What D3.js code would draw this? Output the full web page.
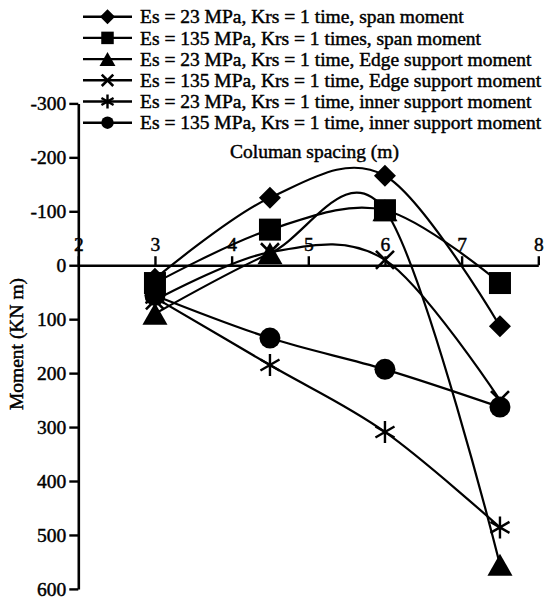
<!DOCTYPE html>
<html>
<head>
<meta charset="utf-8">
<script src="https://cdn.jsdelivr.net/npm/d3@7"></script>
<style>
  body { margin: 0; background: #fff; }
  svg { display: block; }
  text { font-family: "Liberation Serif", "Times New Roman", serif; fill: #000; stroke: #000; stroke-width: 0.45px; }
</style>
</head>
<body>
<svg id="chart" width="544" height="600"></svg>
<script>
// Column spacing (m) at which the moments were computed
const spacing = [3, 4.5, 6, 7.5];

// Moments (KN m); negative values plot upward
const span23 = [25, -125, -166, 113];
const span135 = [33, -66, -102, 33];
const edge23 = [90, -22, -102, 555];
const edge135 = [65, -24, -10, 250];
const inner23 = [60, 185, 309, 486];
const inner135 = [56, 135, 193, 263];

const seriesNames = [
  "Es = 23 MPa, Krs = 1 time, span moment",
  "Es = 135 MPa, Krs = 1 times, span moment",
  "Es = 23 MPa, Krs = 1 time, Edge support moment",
  "Es = 135 MPa, Krs = 1 time, Edge support moment",
  "Es = 23 MPa, Krs = 1 time, inner support moment",
  "Es = 135 MPa, Krs = 1 time, inner support moment"
];
const markerKinds = ["diamond", "square", "triangle", "cross", "asterisk", "circle"];

const xTickValues = [2, 3, 4, 5, 6, 7, 8];
const xTickLabels = ["2", "3", "4", "5", "6", "7", "8"];
const yTickValues = [-300, -200, -100, 0, 100, 200, 300, 400, 500, 600];
const yTickLabels = ["-300", "-200", "-100", "0", "100", "200", "300", "400", "500", "600"];
const xTitle = "Columan spacing (m)";
const yTitle = "Moment (KN m)";

const seriesValues = [span23, span135, edge23, edge135, inner23, inner135];
const series = seriesNames.map((name, i) => ({
  name,
  kind: markerKinds[i],
  points: spacing.map((s, j) => ({ x: s, y: seriesValues[i][j] }))
}));

const svg = d3.select("#chart");
const FONT = 19.5;

const x = d3.scaleLinear().domain([2, 8]).range([78.3, 538.3]);
const y = d3.scaleLinear().domain([-300, 600]).range([103.4, 588.9]);

// Y axis on the left at x = 2
const yAxis = svg.append("g")
  .attr("transform", `translate(${x(2)},0)`)
  .call(d3.axisLeft(y).tickValues(yTickValues).tickSize(9).tickSizeOuter(0).tickPadding(3)
    .tickFormat((d, i) => yTickLabels[i]));
yAxis.select(".domain").attr("stroke", "#000").attr("stroke-width", 2.6);
yAxis.selectAll(".tick line").attr("stroke", "#000").attr("stroke-width", 2.4);
yAxis.selectAll(".tick text").attr("font-size", FONT).attr("font-family", null).attr("fill", "#000");

// X axis through the zero line, ticks and labels above
const xAxis = svg.append("g")
  .attr("transform", `translate(0,${y(0)})`)
  .call(d3.axisTop(x).tickValues(xTickValues).tickSize(9).tickSizeOuter(0).tickPadding(5)
    .tickFormat((d, i) => xTickLabels[i]));
xAxis.select(".domain").attr("stroke", "#000").attr("stroke-width", 2.4);
xAxis.selectAll(".tick line").attr("stroke", "#000").attr("stroke-width", 2.4);
xAxis.selectAll(".tick text").attr("font-size", FONT).attr("font-family", null).attr("fill", "#000");

// Axis titles
svg.append("text")
  .attr("x", 230).attr("y", 158)
  .attr("font-size", FONT)
  .text(xTitle);

svg.append("text")
  .attr("transform", `translate(23,344) rotate(-90)`)
  .attr("text-anchor", "middle")
  .attr("font-size", FONT)
  .text(yTitle);

// Marker drawing
function drawMarker(g, kind, cx, cy, s) {
  // s: nominal marker size (px)
  const h = s / 2;
  switch (kind) {
    case "diamond":
      g.append("path")
        .attr("d", `M${cx},${cy - h}L${cx + h},${cy}L${cx},${cy + h}L${cx - h},${cy}Z`)
        .attr("fill", "#000");
      break;
    case "square":
      g.append("rect")
        .attr("x", cx - h).attr("y", cy - h).attr("width", s).attr("height", s)
        .attr("fill", "#000");
      break;
    case "triangle": {
      const w = s * 1.14, th = s;
      g.append("path")
        .attr("d", `M${cx},${cy - th / 2}L${cx + w / 2},${cy + th / 2}L${cx - w / 2},${cy + th / 2}Z`)
        .attr("fill", "#000");
      break;
    }
    case "cross": {
      const a = h * 0.82;
      g.append("path")
        .attr("d", `M${cx - a},${cy - a}L${cx + a},${cy + a}M${cx - a},${cy + a}L${cx + a},${cy - a}`)
        .attr("stroke", "#000").attr("stroke-width", 2.6).attr("fill", "none");
      break;
    }
    case "asterisk": {
      const a = h;
      const dx = a * Math.cos(Math.PI / 6), dy = a * Math.sin(Math.PI / 6);
      g.append("path")
        .attr("d", `M${cx},${cy - a}L${cx},${cy + a}` +
          `M${cx - dx},${cy - dy}L${cx + dx},${cy + dy}` +
          `M${cx - dx},${cy + dy}L${cx + dx},${cy - dy}`)
        .attr("stroke", "#000").attr("stroke-width", 2.4).attr("fill", "none");
      break;
    }
    case "circle":
      g.append("circle").attr("cx", cx).attr("cy", cy).attr("r", h).attr("fill", "#000");
      break;
  }
}

const dataSize = { diamond: 22, square: 22, triangle: 22, cross: 22, asterisk: 22, circle: 21 };
const legendSize = { diamond: 15, square: 12.5, triangle: 14, cross: 14, asterisk: 14, circle: 12.5 };

// Smoothed series lines with markers
const line = d3.line()
  .x(d => x(d.x))
  .y(d => y(d.y))
  .curve(d3.curveCatmullRom.alpha(0));

const plot = svg.append("g");
series.forEach(s => {
  const g = plot.append("g");
  g.append("path")
    .attr("d", line(s.points))
    .attr("fill", "none")
    .attr("stroke", "#000")
    .attr("stroke-width", 2.2);
  s.points.forEach(p => drawMarker(g, s.kind, x(p.x), y(p.y), dataSize[s.kind]));
});

// Legend
const legend = svg.append("g");
const rowY = d3.range(series.length).map(i => 16.7 + i * 21.2);
series.forEach((s, i) => {
  const g = legend.append("g");
  const ly = rowY[i];
  g.append("line")
    .attr("x1", 83).attr("x2", 132).attr("y1", ly).attr("y2", ly)
    .attr("stroke", "#000").attr("stroke-width", 2.4);
  drawMarker(g, s.kind, 107.5, ly, legendSize[s.kind]);
  g.append("text")
    .attr("x", 140).attr("y", ly).attr("dy", "0.34em")
    .attr("font-size", FONT)
    .text(s.name);
});
</script>
</body>
</html>
